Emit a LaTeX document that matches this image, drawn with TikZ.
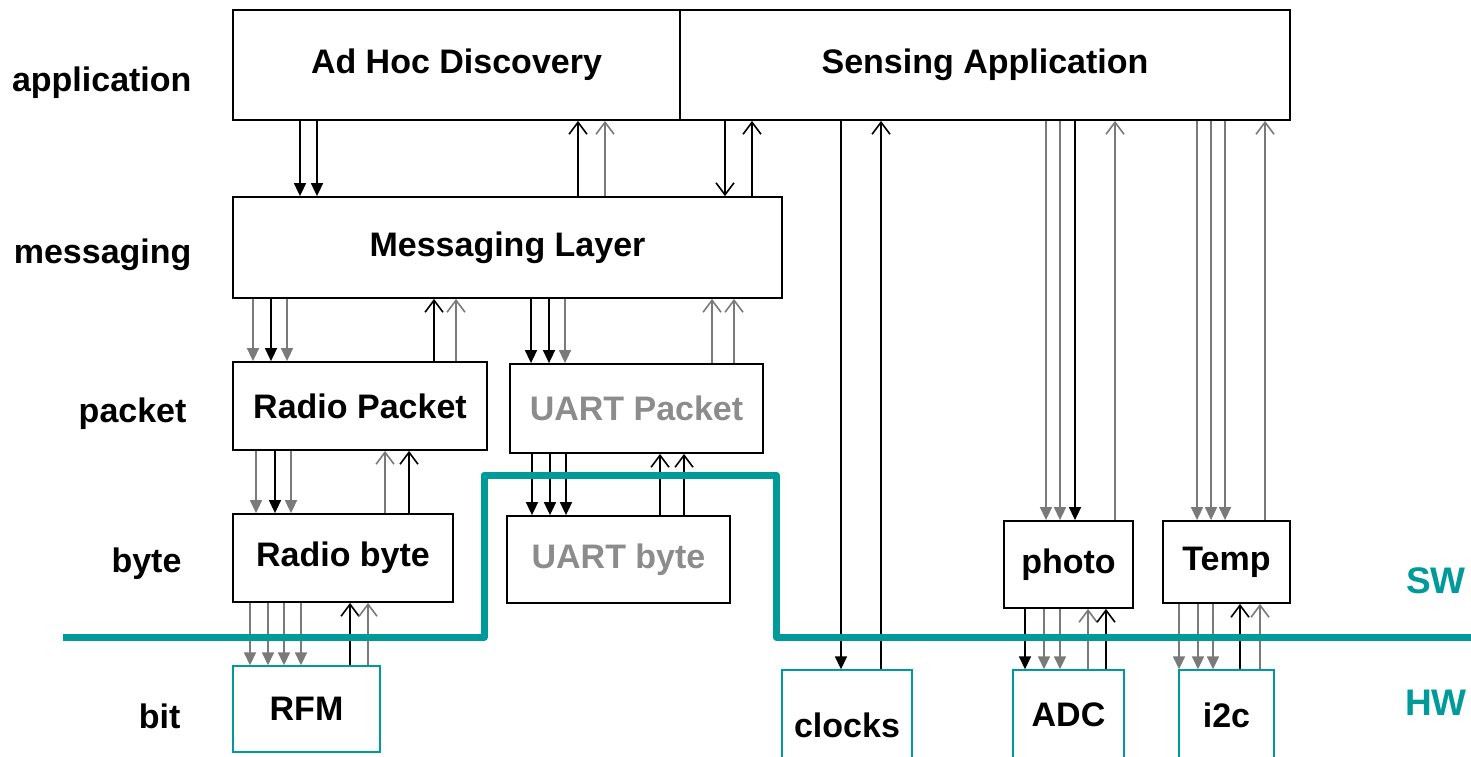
\documentclass[tikz,border=0pt]{standalone}
\usepackage{fontspec}
\setmainfont{Liberation Sans}
\usepackage{xcolor}
\usetikzlibrary{arrows.meta}
\definecolor{swTeal}{HTML}{009A9A}
\definecolor{arrGray}{HTML}{7A7A7A}
\definecolor{txtGray}{HTML}{8C8C8C}
\newcommand{\boxfont}{\fontsize{34}{40}\selectfont\bfseries}
\newcommand{\swfont}{\fontsize{37}{42}\selectfont\bfseries}

\begin{document}
\begin{tikzpicture}[x=1pt, y=-1pt,
    blk/.style={draw, line width=1.8pt, inner sep=0pt, font=\boxfont},
    hwblk/.style={blk, draw=swTeal, line width=1.4pt},
    layer/.style={anchor=base east, font=\boxfont},
    godown/.style={line width=1.6pt, -{Triangle[width=12pt,length=13pt]}},
    godowng/.style={godown, arrGray},
    godowno/.style={line width=1.6pt, -{Straight Barb[width=18pt,length=12pt]}},
    goup/.style={line width=1.6pt, -{Straight Barb[width=18pt,length=12pt]}},
    goupg/.style={goup, arrGray},
    swline/.style={swTeal, line width=7pt, line join=round}]
    \clip (0,0) rectangle (1471,756);

    % layer names
    \node[layer] (lapp) at (195,91) {application};
    \node[layer] (lmsg) at (195,263) {messaging};
    \node[layer] (lpkt) at (190,422) {packet};
    \node[layer] (lbyte) at (185,572) {byte};
    \node[layer] (lbit) at (184,728) {bit};

    % software blocks
    \node[blk, minimum width=447pt, minimum height=110pt] (ahd) at (456.5,65) {Ad Hoc Discovery};
    \node[blk, minimum width=610pt, minimum height=110pt] (sens) at (985,65) {Sensing Application};
    \node[blk, minimum width=549pt, minimum height=101pt] (msg) at (507.5,247.5) {Messaging Layer};
    \node[blk, minimum width=254pt, minimum height=88pt] (rpkt) at (360,406) {Radio Packet};
    \node[blk, minimum width=253pt, minimum height=89pt, text=txtGray] (upkt) at (636.5,408.5) {UART Packet};
    \node[blk, minimum width=220pt, minimum height=88pt] (rbyte) at (343,558) {Radio byte};
    \node[blk, minimum width=223pt, minimum height=87pt, text=txtGray] (ubyte) at (618.5,559.5) {UART byte};
    \node[blk, minimum width=129pt, minimum height=87pt] (photo) at (1068.5,564.5) {photo};
    \node[blk, minimum width=127pt, minimum height=82pt] (temp) at (1226.5,562) {Temp};

    % hardware blocks
    \node[hwblk, minimum width=147pt, minimum height=86pt] (rfm) at (306.5,709) {RFM};
    \node[hwblk, minimum width=130pt, minimum height=110pt] (clocks) at (847,725) {clocks};
    \node[hwblk, minimum width=111pt, minimum height=90pt] (adc) at (1068.5,715) {ADC};
    \node[hwblk, minimum width=95pt, minimum height=90pt] (i2c) at (1226.5,715) {i2c};

    \node[anchor=base, text=swTeal, font=\swfont] (sw) at (1436,593) {SW};
    \node[anchor=base, text=swTeal, font=\swfont] (hw) at (1436,715) {HW};

    % application <-> messaging
    \foreach \x in {300,317} \draw[godown] (ahd.south -| \x,0) -- (msg.north -| \x,0);
    \draw[goup] (msg.north -| 578,0) -- (ahd.south -| 578,0);
    \draw[goupg] (msg.north -| 605,0) -- (ahd.south -| 605,0);
    \draw[godowno] (sens.south -| 725,0) -- (msg.north -| 725,0);
    \draw[goup] (msg.north -| 752,0) -- (sens.south -| 752,0);

    % messaging <-> packets
    \foreach \x/\s in {253/godowng,271/godown,287/godowng} \draw[\s] (msg.south -| \x,0) -- (rpkt.north -| \x,0);
    \draw[goup] (rpkt.north -| 434,0) -- (msg.south -| 434,0);
    \draw[goupg] (rpkt.north -| 456,0) -- (msg.south -| 456,0);
    \foreach \x/\s in {531/godown,549/godown,565/godowng} \draw[\s] (msg.south -| \x,0) -- (upkt.north -| \x,0);
    \foreach \x in {712,734} \draw[goupg] (upkt.north -| \x,0) -- (msg.south -| \x,0);

    % packets <-> bytes
    \foreach \x/\s in {256/godowng,275/godown,291/godowng} \draw[\s] (rpkt.south -| \x,0) -- (rbyte.north -| \x,0);
    \draw[goupg] (rbyte.north -| 385,0) -- (rpkt.south -| 385,0);
    \draw[goup] (rbyte.north -| 409,0) -- (rpkt.south -| 409,0);
    \foreach \x in {532,550,566} \draw[godown] (upkt.south -| \x,0) -- (ubyte.north -| \x,0);
    \foreach \x in {660,684} \draw[goup] (ubyte.north -| \x,0) -- (upkt.south -| \x,0);

    % bytes <-> bits
    \foreach \x in {250,268,284,301} \draw[godowng] (rbyte.south -| \x,0) -- (rfm.north -| \x,0);
    \draw[goup] (rfm.north -| 350,0) -- (rbyte.south -| 350,0);
    \draw[goupg] (rfm.north -| 368,0) -- (rbyte.south -| 368,0);

    % sensing application <-> drivers
    \draw[godown] (sens.south -| 841,0) -- (clocks.north -| 841,0);
    \draw[goup] (clocks.north -| 881,0) -- (sens.south -| 881,0);
    \foreach \x/\s in {1046/godowng,1060/godowng,1075/godown} \draw[\s] (sens.south -| \x,0) -- (photo.north -| \x,0);
    \draw[goupg] (photo.north -| 1115,0) -- (sens.south -| 1115,0);
    \foreach \x in {1197,1211,1225} \draw[godowng] (sens.south -| \x,0) -- (temp.north -| \x,0);
    \draw[goupg] (temp.north -| 1265,0) -- (sens.south -| 1265,0);

    % drivers <-> hardware
    \foreach \x/\s in {1025/godown,1044/godowng,1060/godowng} \draw[\s] (photo.south -| \x,0) -- (adc.north -| \x,0);
    \draw[goupg] (adc.north -| 1088,0) -- (photo.south -| 1088,0);
    \draw[goup] (adc.north -| 1106,0) -- (photo.south -| 1106,0);
    \foreach \x in {1179,1198,1213} \draw[godowng] (temp.south -| \x,0) -- (i2c.north -| \x,0);
    \draw[goup] (i2c.north -| 1240,0) -- (temp.south -| 1240,0);
    \draw[goupg] (i2c.north -| 1260,0) -- (temp.south -| 1260,0);

    % SW / HW boundary
    \draw[swline] (63,637) -- (484,637) -- (484,475) -- (776,475) -- (776,637) -- (1471,637);
\end{tikzpicture}
\end{document}
